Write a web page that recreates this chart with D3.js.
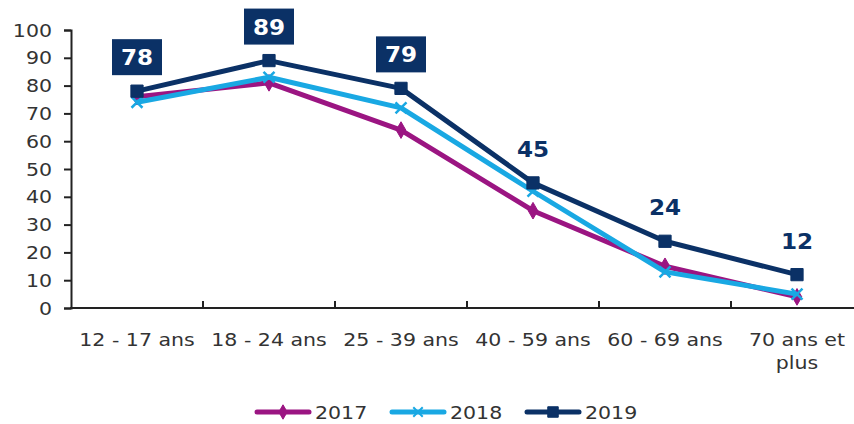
<!DOCTYPE html>
<html>
<head>
<meta charset="utf-8">
<script src="https://cdn.jsdelivr.net/npm/d3@7"></script>
<style>
  body { margin: 0; background: #fff; }
  svg { display: block; font-family: "DejaVu Sans", Verdana, sans-serif; }
</style>
</head>
<body>
<script>
// categories and series
var categories = ["12 - 17 ans", "18 - 24 ans", "25 - 39 ans", "40 - 59 ans", "60 - 69 ans", "70 ans et plus"];
var years = ["2017", "2018", "2019"];
var values2017 = [76, 81, 64, 35, 15, 4];
var values2018 = [74, 83, 72, 42, 13, 5];
var values2019 = [78, 89, 79, 45, 24, 12];
var yTicks = [0, 10, 20, 30, 40, 50, 60, 70, 80, 90, 100];

var colors = { "2017": "#9b1582", "2018": "#19a8e3", "2019": "#0b3166" };
var symbols = { "2017": d3.symbolDiamond, "2018": d3.symbolX, "2019": d3.symbolSquare };

var series = [
  { name: "2017", values: values2017 },
  { name: "2018", values: values2018 },
  { name: "2019", values: values2019 }
];

var width = 854, height = 424;
var stretch = "scale(1.14,1)"; // the source text is a bit wide

var svg = d3.select("body").append("svg")
  .attr("width", width)
  .attr("height", height);

var x = d3.scaleBand().domain(categories).range([71, 863]);
var y = d3.scaleLinear().domain([0, 100]).range([308, 30]);
var cx = function(c) { return x(c) + x.bandwidth() / 2; };

// y axis
var yAxis = svg.append("g")
  .attr("transform", "translate(71,0)")
  .call(d3.axisLeft(y).tickValues(yTicks).tickSize(7).tickFormat(""));
yAxis.select(".domain").attr("stroke", "#222").attr("stroke-width", 2);
yAxis.selectAll(".tick line").attr("stroke", "#222").attr("stroke-width", 2);

svg.selectAll(".ylabel")
  .data(yTicks)
  .enter().append("text")
  .attr("class", "ylabel")
  .attr("transform", function(d) { return "translate(52," + (y(d) + 6.5) + ") " + stretch; })
  .attr("text-anchor", "end")
  .attr("fill", "#333")
  .style("font-size", "18px")
  .text(function(d) { return d; });

// x axis
svg.append("line")
  .attr("x1", 70).attr("x2", width)
  .attr("y1", y(0)).attr("y2", y(0))
  .attr("stroke", "#222").attr("stroke-width", 2);

svg.selectAll(".xtick")
  .data(categories.slice(1))
  .enter().append("line")
  .attr("class", "xtick")
  .attr("x1", function(d) { return x(d); })
  .attr("x2", function(d) { return x(d); })
  .attr("y1", y(0)).attr("y2", y(0) - 7)
  .attr("stroke", "#222").attr("stroke-width", 2);

var xLabels = svg.selectAll(".xlabel")
  .data(categories)
  .enter().append("text")
  .attr("class", "xlabel")
  .attr("transform", function(d) { return "translate(" + cx(d) + ",346) " + stretch; })
  .attr("text-anchor", "middle")
  .attr("fill", "#333")
  .style("font-size", "18px");

xLabels.each(function(d) {
  var t = d3.select(this);
  var lines = d === "70 ans et plus" ? ["70 ans et", "plus"] : [d];
  lines.forEach(function(l, i) {
    t.append("tspan")
      .attr("x", 0)
      .attr("y", i * 23)
      .text(l);
  });
});

// lines
var line = d3.line()
  .x(function(d, i) { return cx(categories[i]); })
  .y(function(d) { return y(d); });

series.forEach(function(s) {
  svg.append("path")
    .datum(s.values)
    .attr("fill", "none")
    .attr("stroke", colors[s.name])
    .attr("stroke-width", 5)
    .attr("stroke-linejoin", "round")
    .attr("d", line);

  svg.selectAll(".m" + s.name)
    .data(s.values)
    .enter().append("path")
    .attr("class", "m" + s.name)
    .attr("transform", function(d, i) { return "translate(" + cx(categories[i]) + "," + y(d) + ")"; })
    .attr("d", d3.symbol().type(symbols[s.name]).size(s.name === "2019" ? 150 : 80))
    .attr("fill", colors[s.name])
    .attr("stroke", colors[s.name])
    .attr("stroke-width", s.name === "2018" ? 2.5 : 1);
});

// data labels for 2019
values2019.forEach(function(v, i) {
  var px = cx(categories[i]), py = y(v);
  var boxed = i < 3;
  if (boxed) {
    svg.append("rect")
      .attr("x", px - 25).attr("y", py - 52)
      .attr("width", 50).attr("height", 36)
      .attr("fill", colors["2019"]);
  }
  svg.append("text")
    .attr("transform", "translate(" + px + "," + (py - 26) + ") scale(1.05,1)")
    .attr("text-anchor", "middle")
    .attr("fill", boxed ? "#fff" : colors["2019"])
    .style("font-size", "22px")
    .style("font-weight", "bold")
    .text(v);
});

// legend
var legendX = [255, 390, 525];
var legend = svg.selectAll(".legend")
  .data(years)
  .enter().append("g")
  .attr("class", "legend")
  .attr("transform", function(d, i) { return "translate(" + legendX[i] + ",412)"; });

legend.append("line")
  .attr("x1", 2).attr("x2", 54)
  .attr("stroke", function(d) { return colors[d]; })
  .attr("stroke-width", 5)
  .attr("stroke-linecap", "round");

legend.append("path")
  .attr("transform", "translate(28,0)")
  .attr("d", function(d) { return d3.symbol().type(symbols[d]).size(d === "2019" ? 110 : 60)(); })
  .attr("fill", function(d) { return colors[d]; })
  .attr("stroke", function(d) { return colors[d]; })
  .attr("stroke-width", function(d) { return d === "2018" ? 2 : 1; });

legend.append("text")
  .attr("transform", "translate(60,7) " + stretch)
  .attr("fill", "#333")
  .style("font-size", "18px")
  .text(function(d) { return d; });
</script>
</body>
</html>
